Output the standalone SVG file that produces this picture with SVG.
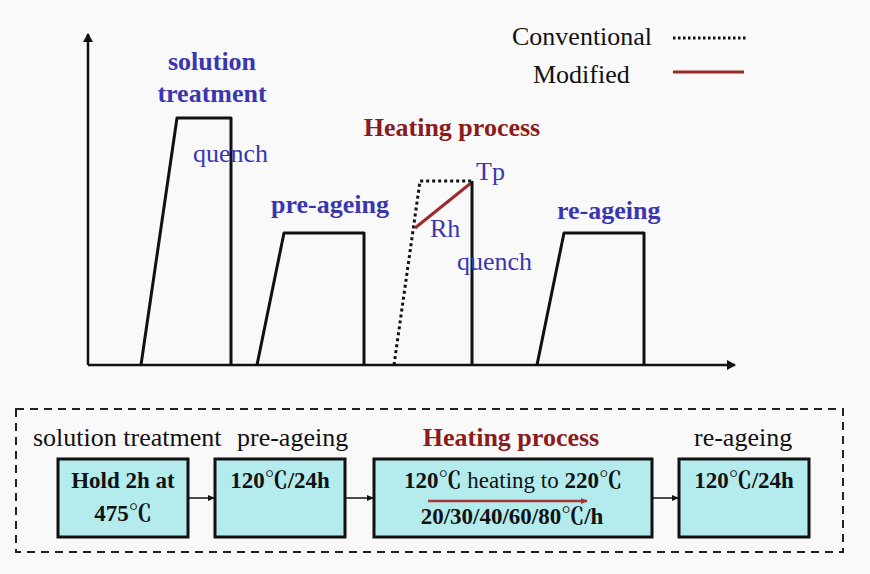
<svg xmlns="http://www.w3.org/2000/svg" width="870" height="574" viewBox="0 0 870 574">
<defs>
<marker id="ah" markerWidth="10" markerHeight="10" refX="8" refY="5" orient="auto" markerUnits="userSpaceOnUse">
<path d="M0,0 L9,5 L0,10 z" fill="#111"/>
</marker>
<marker id="sa" markerWidth="8" markerHeight="8" refX="6" refY="4" orient="auto" markerUnits="userSpaceOnUse">
<path d="M0,1 L7,4 L0,7 z" fill="#111"/>
</marker>
<marker id="ra" markerWidth="8" markerHeight="8" refX="6" refY="4" orient="auto" markerUnits="userSpaceOnUse">
<path d="M0,1 L7,4 L0,7 z" fill="#a33"/>
</marker>
</defs>
<style>
text{font-family:"Liberation Serif","Noto Serif CJK SC","Noto Sans CJK SC",serif;}
.blue{fill:#3a36b0;font-size:26px;}
.bb{fill:#3a36b0;font-size:26px;font-weight:bold;}
.red{fill:#8b1c1c;font-size:26px;font-weight:bold;}
.blk{fill:#111;font-size:26px;}
.bt{fill:#111;font-size:23px;font-weight:bold;}
.bn{font-weight:normal;}
.sol{fill:none;stroke:#111;stroke-width:3;stroke-linejoin:round;}
.box{fill:#b4ecee;stroke:#111;stroke-width:3;}
</style>
<rect width="870" height="574" fill="#f9f9f9"/>

<g id="axes">
<line x1="88" y1="365" x2="88" y2="34" stroke="#111" stroke-width="2.5" marker-end="url(#ah)"/>
<line x1="88" y1="365" x2="735" y2="365" stroke="#111" stroke-width="2.5" marker-end="url(#ah)"/>
</g>

<g id="solution-curve">
<polyline class="sol" points="141,365 177,118 231,118 231,365"/>
<text class="bb" x="212" y="70" text-anchor="middle">solution</text>
<text class="bb" x="212" y="102" text-anchor="middle">treatment</text>
<text class="blue" x="193" y="162">quench</text>
</g>

<g id="preageing-curve">
<polyline class="sol" points="257,365 284,233 364,233 364,365"/>
<text class="bb" x="271" y="213">pre-ageing</text>
</g>

<g id="heating-curve">
<polyline points="394,365 420,181 472,181" fill="none" stroke="#111" stroke-width="3" stroke-dasharray="3,3"/>
<line x1="415" y1="228" x2="471" y2="183" stroke="#9b2a2a" stroke-width="3"/>
<line x1="472" y1="181" x2="472" y2="365" stroke="#111" stroke-width="3"/>
<text class="red" x="452" y="136" text-anchor="middle">Heating process</text>
<text class="blue" x="476" y="180">Tp</text>
<text class="blue" x="430" y="237">Rh</text>
<text class="blue" x="457" y="270">quench</text>
</g>

<g id="reageing-curve">
<polyline class="sol" points="537,365 564,233 644,233 644,365"/>
<text class="bb" x="557" y="219">re-ageing</text>
</g>

<g id="legend">
<text class="blk" x="512" y="45">Conventional</text>
<line x1="673" y1="38" x2="746" y2="38" stroke="#111" stroke-width="3" stroke-dasharray="2.5,2.5"/>
<text class="blk" x="533" y="83">Modified</text>
<line x1="673" y1="72" x2="744" y2="72" stroke="#9b2a2a" stroke-width="3"/>
</g>

<g id="frame">
<rect x="16" y="409" width="827" height="143" fill="none" stroke="#222" stroke-width="2" stroke-dasharray="8,6"/>
</g>

<g id="box-solution">
<text class="blk" x="33" y="446">solution treatment</text>
<rect class="box" x="58" y="459" width="130" height="78"/>
<text class="bt" x="123" y="488" text-anchor="middle">Hold 2h at</text>
<text class="bt" x="123" y="521" text-anchor="middle">475℃</text>
</g>

<g id="box-preageing">
<text class="blk" x="237" y="446">pre-ageing</text>
<rect class="box" x="215" y="459" width="130" height="78"/>
<text class="bt" x="280" y="488" text-anchor="middle">120℃/24h</text>
</g>

<g id="box-heating">
<text class="red" x="511" y="446" text-anchor="middle">Heating process</text>
<rect class="box" x="374" y="459" width="278" height="78"/>
<text class="bt" x="513" y="488" text-anchor="middle">120℃ <tspan class="bn">heating to</tspan> 220℃</text>
<line x1="428" y1="501" x2="587" y2="501" stroke="#a33" stroke-width="2.5" marker-end="url(#ra)"/>
<text class="bt" x="512" y="524" text-anchor="middle">20/30/40/60/80℃/h</text>
</g>

<g id="box-reageing">
<text class="blk" x="694" y="446">re-ageing</text>
<rect class="box" x="679" y="459" width="130" height="78"/>
<text class="bt" x="744" y="488" text-anchor="middle">120℃/24h</text>
</g>

<g id="connectors">
<line x1="188" y1="498" x2="214" y2="498" stroke="#111" stroke-width="1.5" marker-end="url(#sa)"/>
<line x1="345" y1="498" x2="373" y2="498" stroke="#111" stroke-width="1.5" marker-end="url(#sa)"/>
<line x1="652" y1="498" x2="678" y2="498" stroke="#111" stroke-width="1.5" marker-end="url(#sa)"/>
</g>
</svg>
